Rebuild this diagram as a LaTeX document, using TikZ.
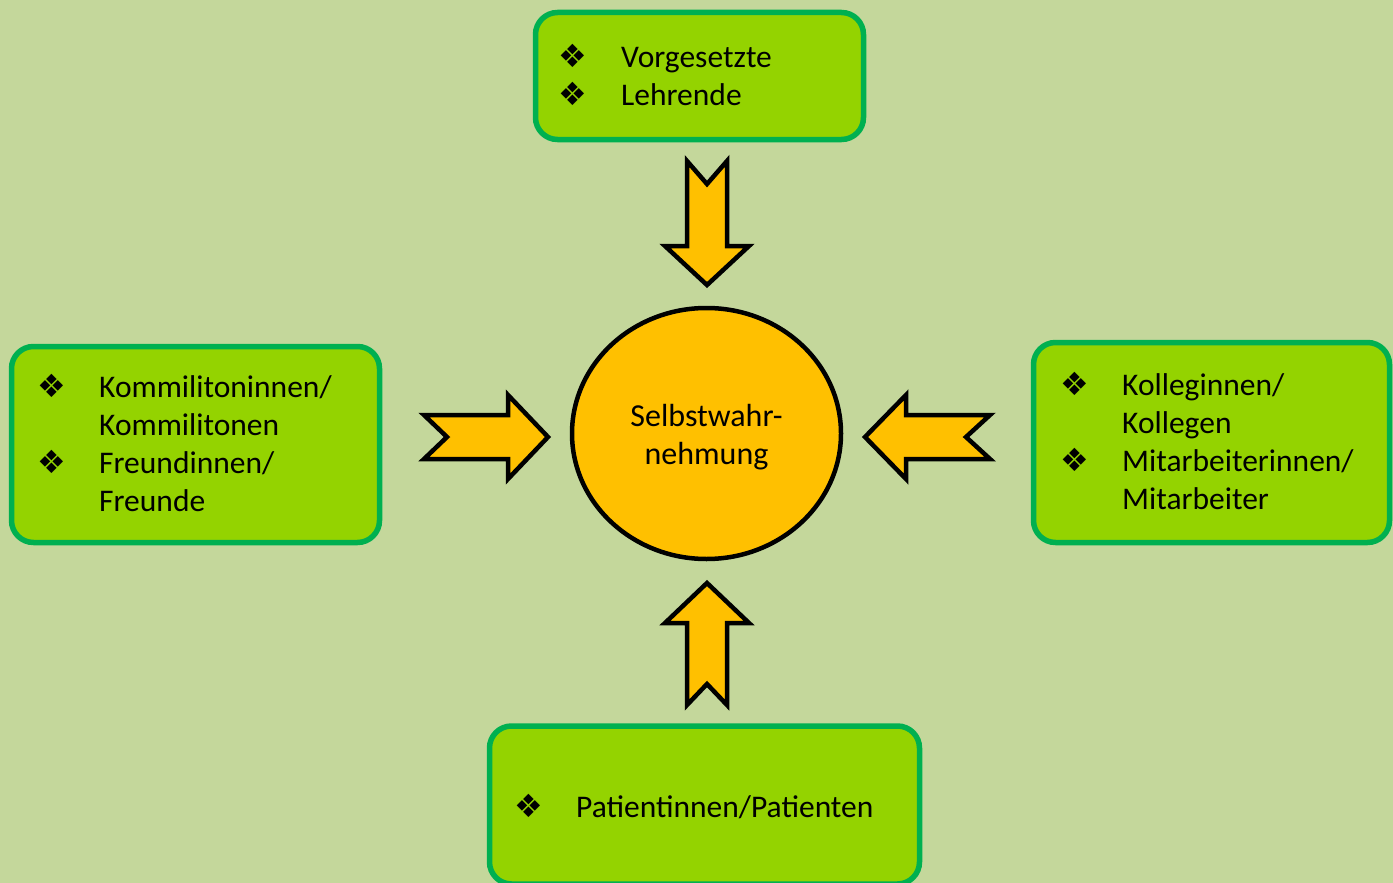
\documentclass[tikz,border=0pt]{standalone}
\usepackage{fontspec}
\setmainfont{Carlito}
\newfontfamily\djv{DejaVu Sans}
\usetikzlibrary{shapes.geometric}
\definecolor{bgc}{RGB}{196,215,155}
\definecolor{boxfill}{RGB}{148,211,0}
\definecolor{boxline}{RGB}{0,176,80}
\definecolor{arrowfill}{RGB}{255,192,0}
\begin{document}
\begin{tikzpicture}[x=1pt,y=-1pt,
  box/.style={draw=boxline, line width=5.5pt, fill=boxfill, rounded corners=22pt, inner sep=0pt},
  blockarrow/.style={draw=black, line width=4.5pt, fill=arrowfill, line join=miter},
  txt/.style={anchor=base west, font=\fontsize{31.5}{38}\selectfont, inner sep=0pt},
  ctxt/.style={anchor=base, font=\fontsize{32}{38}\selectfont, inner sep=0pt},
  bul/.style={anchor=base, font=\djv\fontsize{32}{36}\selectfont, inner sep=0pt}]
\fill[bgc] (0,0) rectangle (1393,883);
\useasboundingbox (0,0) rectangle (1393,883);
\clip (0,0) rectangle (1393,883);
% boxes
\node[box, minimum width=328pt, minimum height=127pt] (top) at (699.5,76) {};
\node[box, minimum width=368pt, minimum height=196pt] (left) at (195.5,444.5) {};
\node[box, minimum width=356pt, minimum height=200pt] (right) at (1211.5,442.5) {};
\node[box, minimum width=430pt, minimum height=158pt] (bottom) at (704.5,805) {};
% centre ellipse
\node[ellipse, draw=black, line width=4.5pt, fill=arrowfill, minimum width=269pt, minimum height=251pt, inner sep=0pt] (self) at (706.5,433.5) {};
\node[ctxt] (self1) at (706.5,426) {Selbstwahr-};
\node[ctxt] (self2) at (706.5,464) {nehmung};
% block arrows
\draw[blockarrow] (687,161) -- (707,184) -- (727,161) -- (727,246) -- (749,246) -- (707,285) -- (665,246) -- (687,246) -- cycle;
\draw[blockarrow] (707,583) -- (749,623) -- (727,623) -- (727,705) -- (707,684) -- (687,705) -- (687,623) -- (665,623) -- cycle;
\draw[blockarrow] (424,415) -- (508,415) -- (508,395) -- (548,437) -- (508,479) -- (508,459) -- (424,459) -- (447,437) -- cycle;
\draw[blockarrow] (990,415) -- (906,415) -- (906,395) -- (865,437) -- (906,479) -- (906,459) -- (990,459) -- (966,437) -- cycle;
% top texts
\node[bul] (tb1) at (573,68) {❖};
\node[txt] (tt1) at (621,68) {Vorgesetzte};
\node[bul] (tb2) at (573,106) {❖};
\node[txt] (tt2) at (621,106) {Lehrende};
% left texts
\node[bul] (lb1) at (52,397) {❖};
\node[txt] (lt1) at (99,397) {Kommilitoninnen/};
\node[txt] (lt2) at (99,435) {Kommilitonen};
\node[bul] (lb2) at (52,473) {❖};
\node[txt] (lt3) at (99,473) {Freundinnen/};
\node[txt] (lt4) at (99,511) {Freunde};
% right texts
\node[bul] (rb1) at (1075,395) {❖};
\node[txt] (rt1) at (1122,395) {Kolleginnen/};
\node[txt] (rt2) at (1122,433) {Kollegen};
\node[bul] (rb2) at (1075,471) {❖};
\node[txt] (rt3) at (1122,471) {Mitarbeiterinnen/};
\node[txt] (rt4) at (1122,509) {Mitarbeiter};
% bottom text
\node[bul] (bb1) at (529,817) {❖};
\node[txt] (bt1) at (576,817) {Patientinnen/Patienten};
\end{tikzpicture}
\end{document}
